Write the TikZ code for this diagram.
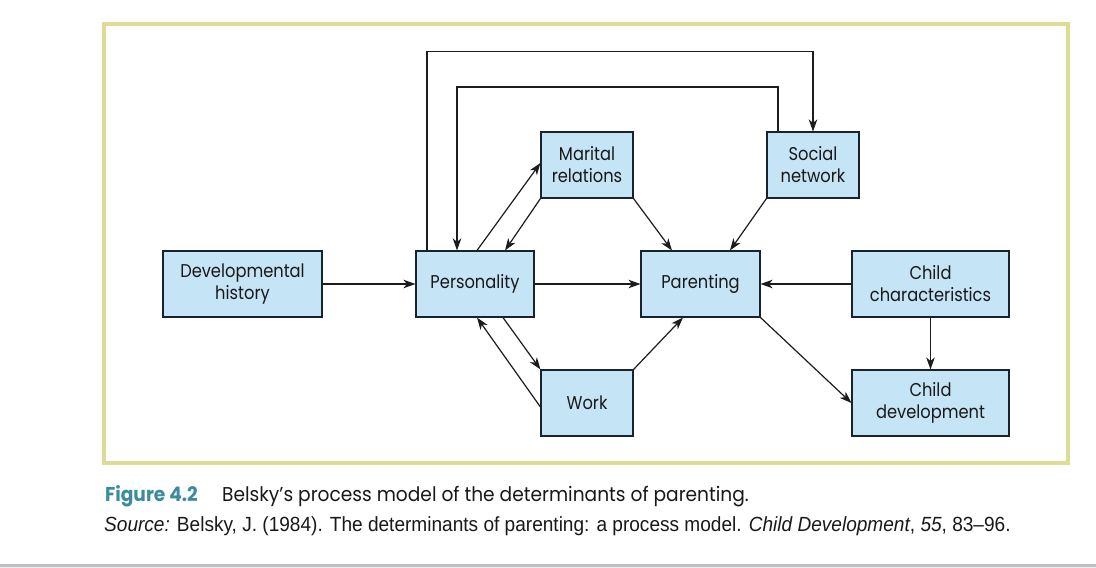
\documentclass[tikz,border=0pt]{standalone}
\usepackage{fontspec}
\setmainfont{Poppins}[FakeStretch=0.88]
\newfontfamily\capfont{Poppins}[FakeStretch=0.93]
\newfontfamily\srcfont{Liberation Sans}[FakeStretch=0.93]
\usetikzlibrary{arrows.meta,calc}
\definecolor{boxfill}{RGB}{197,228,246}
\definecolor{boxline}{RGB}{25,35,45}
\definecolor{framecol}{RGB}{220,220,148}
\definecolor{figteal}{RGB}{58,140,158}
\definecolor{rulegray}{RGB}{190,194,198}
\definecolor{linecol}{RGB}{28,28,28}
\tikzset{
  box/.style={draw=boxline, fill=boxfill, line width=1.1pt, inner sep=0pt,
    minimum height=66pt, align=center, font=\fontsize{18.5}{22}\selectfont, text=black!90},
  conn/.style={draw=linecol, line width=1.2pt, -{Stealth[length=12pt,width=8.5pt,inset=3.5pt]}},
  captext/.style={anchor=base west, inner sep=0pt}
}
\begin{document}
\begin{tikzpicture}[x=1pt,y=-1pt]
\useasboundingbox (0,0) rectangle (1096,568);
\fill[white] (0,0) rectangle (1096,568);
% frame
\draw[framecol, line width=3.5pt] (104,24) rectangle (1068,463);
% bottom rule
\fill[rulegray!30] (0,566) rectangle (1096,568);
\fill[rulegray] (0,564) rectangle (1096,566.5);
% nodes
\node[box, minimum width=159pt] (dev)  at (242.5,284) {Developmental\\history};
\node[box, minimum width=118pt] (pers) at (475,284) {Personality};
\node[box, minimum width=92pt]  (mar)  at (587,165) {Marital\\relations};
\node[box, minimum width=92pt]  (soc)  at (813,165) {Social\\network};
\node[box, minimum width=119pt] (par)  at (700.5,284) {Parenting};
\node[box, minimum width=157pt] (cc)   at (930.5,284) {Child\\characteristics};
\node[box, minimum width=92pt]  (work) at (587,403) {Work};
\node[box, minimum width=157pt] (cd)   at (930.5,403) {Child\\development};
% connectors
\draw[conn] (dev.east) -- (pers.west);
\draw[conn] (pers.east) -- (par.west);
\draw[conn] (cc.west) -- (par.east);
\draw[conn] (cc.south) -- (cd.north);
\draw[conn] ($(pers.north)+(2,0)$) -- ($(mar.west)+(0,-2)$);
\draw[conn] (mar.south west) -- ($(pers.north)+(30,0)$);
\draw[conn] (mar.south east) -- ($(par.north)+(-28.5,0)$);
\draw[conn] (soc.south west) -- ($(par.north)+(29.5,0)$);
\draw[conn] ($(pers.south)+(28,0)$) -- (work.north west);
\draw[conn] ($(work.west)+(0,4)$) -- ($(pers.south)+(2,0)$);
\draw[conn] (work.north east) -- ($(par.south)+(-17.5,0)$);
\draw[conn] (par.south east) -- (cd.west);
\draw[conn] ($(pers.north)+(-48,0)$) -- ++(0,-199) -| (soc.north);
\draw[conn, line width=2pt] ($(soc.north)+(-35,0)$) -- ++(0,-44) -| ($(pers.north)+(-18,0)$);
% caption
\node[captext, text=figteal, font=\capfont\bfseries\fontsize{20}{22}\selectfont] (fig) at (105,501) {Figure 4.2};
\node[captext, text=black!90, font=\capfont\fontsize{20}{22}\selectfont] (cap) at (222,501) {Belsky’s process model of the determinants of parenting.};
\node[captext, text=black!90, font=\srcfont\fontsize{20.5}{22}\selectfont] (src) at (104,531.5) {\textit{Source:} Belsky, J. (1984). The determinants of parenting: a process model. \textit{Child Development}, \textit{55}, 83–96.};
\end{tikzpicture}
\end{document}
